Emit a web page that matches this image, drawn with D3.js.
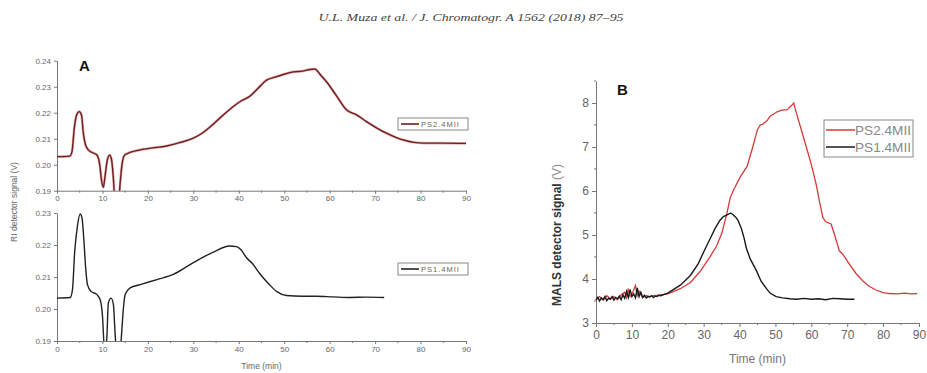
<!DOCTYPE html>
<html><head><meta charset="utf-8">
<script src="https://cdn.jsdelivr.net/npm/d3@7"></script>
<style>html,body{margin:0;padding:0;background:#fff;}svg{display:block;}</style>
</head><body>
<svg id="c" width="927" height="373"></svg>
<script>
// ---- data ----
const headerText = "U.L. Muza et al. / J. Chromatogr. A 1562 (2018) 87–95";
const timeTicks = [0,10,20,30,40,50,60,70,80,90];
const riTopTicks = [0.19,0.20,0.21,0.22,0.23,0.24];
const riBotTicks = [0.19,0.20,0.21,0.22,0.23];
const malsTicks = [3,4,5,6,7,8];

const riPS24t = [0,2.8,3.3,3.8,4.3,4.9,5.4,5.8,6.3,7,8,8.8,9.4,9.8,10.2,10.6,11.1,11.6,12,12.4,12.8,13.5,13.9,14.3,14.8,15.6,17,20.4,24.1,27,30,32,33.6,36,38.8,40.5,42.4,44.3,46.1,48,49.8,52,54,55.6,56.7,58,59.3,61.5,63.7,65.9,68.1,70.3,72.5,74.7,76.9,78.5,80.6,85,90];
const riPS24v = [0.2031,0.2033,0.205,0.214,0.219,0.2204,0.219,0.212,0.2075,0.2055,0.2045,0.2037,0.2,0.194,0.1913,0.196,0.202,0.2037,0.202,0.195,0.185,0.185,0.193,0.2,0.2035,0.2044,0.2052,0.2063,0.2072,0.2085,0.2102,0.2122,0.2144,0.2182,0.2224,0.2245,0.2263,0.2295,0.2325,0.2337,0.2347,0.2357,0.236,0.2366,0.2368,0.2345,0.2319,0.2265,0.2211,0.2192,0.2166,0.2142,0.2121,0.2104,0.2092,0.2086,0.2083,0.2083,0.2082];

const riPS14t = [0,2.9,3.4,3.9,4.5,5.1,5.5,5.9,6.3,6.7,7.5,8.8,9.5,10,10.3,10.6,11,11.3,11.9,12.4,12.8,13.2,13.8,14.2,14.6,15,16.1,18.3,22,25.6,30,34.4,38,39.5,40.5,41.7,43,44.6,46.5,48.3,50.5,54,57,60.7,64.4,68,72];
const riPS14v = [0.2034,0.2036,0.206,0.218,0.226,0.2297,0.2285,0.2218,0.213,0.2076,0.2055,0.2045,0.2029,0.198,0.19,0.185,0.192,0.2019,0.2034,0.2015,0.192,0.185,0.185,0.192,0.2,0.2045,0.2066,0.2076,0.2092,0.2108,0.2145,0.2178,0.2197,0.2195,0.2185,0.216,0.2142,0.2111,0.208,0.2055,0.2042,0.204,0.204,0.2038,0.2036,0.2037,0.2036];

const malsPS24t = [0,1,2,3,4,5,6,7,8,8.5,9,9.5,10,11,11.5,12,13,14,15,16,17,18,20,23.5,26.3,29,31.8,33.6,35.1,36.5,37.4,38.5,40.2,42.1,43.5,45,45.8,46.5,47.7,48.5,50.5,51.5,53.3,54.3,55.1,55.8,57,58.6,60,61.3,62.3,63.2,64,65.5,66.5,67.8,68.7,70.6,72.5,74.3,76,78,80,81.7,84,86,88,89.5];
const malsPS24v = [3.54,3.6,3.52,3.62,3.55,3.6,3.53,3.64,3.7,3.58,3.78,3.6,3.65,3.85,3.62,3.72,3.58,3.62,3.6,3.62,3.63,3.64,3.66,3.78,3.92,4.17,4.51,4.75,5.05,5.5,5.85,6.05,6.32,6.56,6.95,7.4,7.5,7.52,7.6,7.7,7.8,7.83,7.85,7.93,8.0,7.78,7.45,7.0,6.6,6.17,5.75,5.4,5.3,5.25,5.0,4.64,4.57,4.34,4.12,3.96,3.84,3.75,3.69,3.67,3.66,3.68,3.66,3.67];

const malsPS14t = [0,0.5,1,1.5,2,2.5,3,3.5,4,4.5,5,5.5,6,6.5,7,7.5,8,8.5,9,9.5,10,10.5,11,11.5,12,12.5,13,13.5,14,14.5,15,15.5,16,16.5,17,17.5,18,20,23.5,26.3,28.5,30.5,32,33.2,34.5,35.5,36.8,37.5,38.2,39,39.6,40.5,41.2,41.9,43,44.7,46,47.5,48.5,50.2,52,54,56,58,60,62,64,66,68,70,72];
const malsPS14v = [3.52,3.58,3.5,3.57,3.53,3.6,3.51,3.56,3.54,3.6,3.52,3.58,3.55,3.61,3.53,3.64,3.56,3.72,3.58,3.76,3.6,3.66,3.57,3.8,3.6,3.7,3.58,3.63,3.57,3.6,3.59,3.62,3.58,3.61,3.6,3.63,3.62,3.68,3.86,4.08,4.35,4.7,4.95,5.15,5.33,5.42,5.47,5.5,5.46,5.4,5.33,5.15,4.95,4.7,4.45,4.19,3.95,3.78,3.68,3.6,3.57,3.55,3.54,3.56,3.54,3.55,3.53,3.56,3.55,3.54,3.54];

const zip = (t,v) => t.map((d,i)=>({t:d,v:v[i]}));

// ---- drawing ----
const svg = d3.select("#c");
const axisCol = "#777", txtCol = "#666";

svg.append("text").attr("x",471).attr("y",21).attr("text-anchor","middle")
  .attr("font-family","Liberation Serif, serif").attr("font-style","italic")
  .attr("font-size",11).attr("fill","#444")
  .attr("textLength",305).attr("lengthAdjust","spacingAndGlyphs").text(headerText);

function styleAxis(g, fs){
  g.select(".domain").attr("stroke",axisCol);
  g.selectAll(".tick line").attr("stroke",axisCol);
  g.selectAll(".tick text").attr("fill",txtCol).attr("font-family","Liberation Sans, Arial, sans-serif").attr("font-size",fs);
}

function minorTicks(g, vals, scale, orient, len){
  g.selectAll(null).data(vals).join("line")
    .attr("stroke",axisCol)
    .attr(orient==="x"?"x1":"y1",d=>scale(d)).attr(orient==="x"?"x2":"y2",d=>scale(d))
    .attr(orient==="x"?"y1":"x1",0).attr(orient==="x"?"y2":"x2",orient==="x"?len:-len);
}

// Panel A scales
const xA = d3.scaleLinear().domain([0,90]).range([57,466]);
const yA1 = d3.scaleLinear().domain([0.19,0.24]).range([190.7,60.7]);
const yA2 = d3.scaleLinear().domain([0.19,0.23]).range([341,213]);
const minorA = [5,15,25,35,45,55,65,75,85];

function panelA(yS, ticks, data, col, clipId, legendY, legendText){
  const yTop = yS.range()[1], yBot = yS.range()[0];
  const gx = svg.append("g").attr("transform",`translate(0,${yBot})`)
    .call(d3.axisBottom(xA).tickValues(timeTicks).tickFormat(d3.format("d")).tickSize(3).tickSizeOuter(0).tickPadding(2));
  styleAxis(gx, 8);
  minorTicks(gx, minorA, xA, "x", 2);
  const gy = svg.append("g").attr("transform",`translate(${xA(0)},0)`)
    .call(d3.axisLeft(yS).tickValues(ticks).tickFormat(d3.format(".2f")).tickSize(3).tickSizeOuter(0).tickPadding(3));
  styleAxis(gy, 8);
  svg.append("clipPath").attr("id",clipId).append("rect")
    .attr("x",xA(0)).attr("y",yTop-10).attr("width",xA(90)-xA(0)+5).attr("height",yBot-yTop+10);
  const line = d3.line().x(d=>xA(d.t)).y(d=>yS(d.v)).curve(d3.curveMonotoneX);
  const g = svg.append("g").attr("clip-path",`url(#${clipId})`);
  if(col.under) g.append("path").datum(data).attr("d",line).attr("fill","none").attr("stroke",col.under).attr("stroke-width",2.6).attr("opacity",0.55);
  g.append("path").datum(data).attr("d",line).attr("fill","none").attr("stroke",col.main).attr("stroke-width",1.4);
  // legend
  const lg = svg.append("g");
  lg.append("rect").attr("x",398).attr("y",legendY).attr("width",70).attr("height",12)
    .attr("fill","#fff").attr("stroke","#888").attr("stroke-width",1);
  lg.append("line").attr("x1",401).attr("x2",419).attr("y1",legendY+6).attr("y2",legendY+6)
    .attr("stroke",col.main).attr("stroke-width",1.6);
  lg.append("text").attr("x",421).attr("y",legendY+9).attr("font-family","Liberation Sans, Arial, sans-serif")
    .attr("font-size",7.5).attr("fill","#666").attr("letter-spacing",1).text(legendText);
}

panelA(yA1, riTopTicks, zip(riPS24t,riPS24v), {main:"#6e1f1f", under:"#d07070"}, "clipA1", 118, "PS2.4MII");
panelA(yA2, riBotTicks, zip(riPS14t,riPS14v), {main:"#222"}, "clipA2", 263, "PS1.4MII");

svg.append("text").attr("x",79).attr("y",71).attr("font-family","Liberation Sans, Arial, sans-serif")
  .attr("font-weight","bold").attr("font-size",15).attr("fill","#111").text("A");
svg.append("text").attr("transform","translate(17,202) rotate(-90)").attr("text-anchor","middle")
  .attr("font-family","Liberation Sans, Arial, sans-serif").attr("font-size",8.5).attr("fill","#666")
  .text("RI detector signal (V)");
svg.append("text").attr("x",xA(45)).attr("y",369).attr("text-anchor","middle")
  .attr("font-family","Liberation Sans, Arial, sans-serif").attr("font-size",8.5).attr("fill","#666")
  .text("Time (min)");

// Panel B
const xB = d3.scaleLinear().domain([0,90]).range([596,919]);
const yB = d3.scaleLinear().domain([3,8.5]).range([323,81]);
const gxB = svg.append("g").attr("transform",`translate(0,${yB(3)})`)
  .call(d3.axisBottom(xB).tickValues(timeTicks).tickFormat(d3.format("d")).tickSize(4).tickSizeOuter(0).tickPadding(3));
styleAxis(gxB, 12);
minorTicks(gxB, minorA, xB, "x", 2);
const gyB = svg.append("g").attr("transform",`translate(${xB(0)},0)`)
  .call(d3.axisLeft(yB).tickValues(malsTicks).tickFormat(d3.format("d")).tickSize(4).tickSizeOuter(0).tickPadding(3));
styleAxis(gyB, 12);
minorTicks(gyB, [3.5,4.5,5.5,6.5,7.5,8.5], yB, "y", 2);

const lineB = d3.line().x(d=>xB(d.t)).y(d=>yB(d.v)).curve(d3.curveLinear);
svg.append("path").datum(zip(malsPS24t,malsPS24v)).attr("d",lineB).attr("fill","none").attr("stroke","#d43a3a").attr("stroke-width",1.3);
svg.append("path").datum(zip(malsPS14t,malsPS14v)).attr("d",lineB).attr("fill","none").attr("stroke","#1a1a1a").attr("stroke-width",1.4);

svg.append("text").attr("x",617).attr("y",95).attr("font-family","Liberation Sans, Arial, sans-serif")
  .attr("font-weight","bold").attr("font-size",15).attr("fill","#111").text("B");
const yl = svg.append("text").attr("transform","translate(561,235) rotate(-90)").attr("text-anchor","middle")
  .attr("font-family","Liberation Sans, Arial, sans-serif").attr("font-size",12).attr("fill","#333");
yl.append("tspan").attr("font-weight","bold").text("MALS detector signal ");
yl.append("tspan").attr("fill","#888").text("(V)");
svg.append("text").attr("x",xB(45)).attr("y",363).attr("text-anchor","middle")
  .attr("font-family","Liberation Sans, Arial, sans-serif").attr("font-size",12).attr("fill","#777")
  .text("Time (min)");

// legend B
const lgB = svg.append("g");
lgB.append("rect").attr("x",824).attr("y",120).attr("width",89).attr("height",37)
  .attr("fill","#fff").attr("stroke","#888").attr("stroke-width",1);
[["PS2.4MII","#d43a3a",130],["PS1.4MII","#1a1a1a",147]].forEach(([t,c,y])=>{
  lgB.append("line").attr("x1",826).attr("x2",855).attr("y1",y).attr("y2",y).attr("stroke",c).attr("stroke-width",1.5);
  lgB.append("text").attr("x",855).attr("y",y+5).attr("font-family","Liberation Sans, Arial, sans-serif")
    .attr("font-size",13).attr("fill","#888").attr("textLength",56).attr("lengthAdjust","spacingAndGlyphs").text(t);
});
</script>
</body></html>
